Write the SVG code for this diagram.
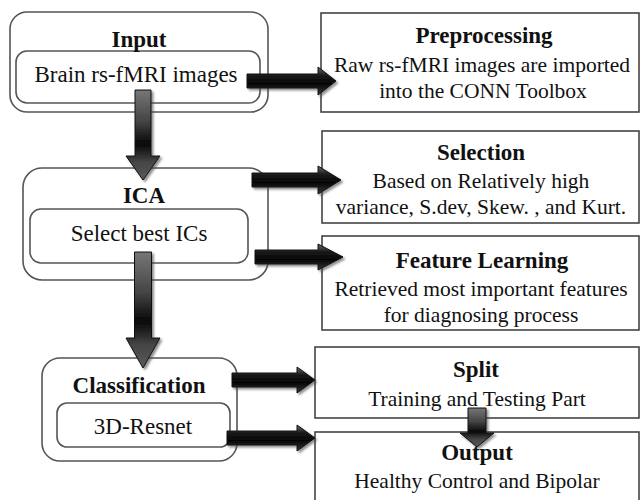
<svg xmlns="http://www.w3.org/2000/svg" width="642" height="500" viewBox="0 0 642 500">
<defs>
<style>
.rbox{fill:#fff;stroke:#555;stroke-width:1.6}
.sbox{fill:#fff;stroke:#444;stroke-width:1.6}
.t{font-family:"Liberation Serif","Times New Roman",serif;font-weight:bold;font-size:23px;fill:#111;text-anchor:middle}
.b{font-family:"Liberation Serif","Times New Roman",serif;font-size:23px;fill:#111;text-anchor:middle}
.br{font-family:"Liberation Serif","Times New Roman",serif;font-size:21.5px;fill:#111;text-anchor:middle}
.ha{fill:url(#gh);stroke:#111;stroke-width:1;filter:url(#sh)}
.va{fill:url(#gv);stroke:#111;stroke-width:1;filter:url(#sh)}
</style>
<linearGradient id="gh" x1="0" y1="0" x2="0" y2="1">
<stop offset="0" stop-color="#6a6a6a"/>
<stop offset="0.3" stop-color="#1a1a1a"/>
<stop offset="0.6" stop-color="#050505"/>
<stop offset="1" stop-color="#3a3a3a"/>
</linearGradient>
<linearGradient id="gv" x1="0" y1="0" x2="0" y2="1">
<stop offset="0" stop-color="#777"/>
<stop offset="0.35" stop-color="#444"/>
<stop offset="0.6" stop-color="#080808"/>
<stop offset="0.8" stop-color="#454545"/>
<stop offset="1" stop-color="#5a5a5a"/>
</linearGradient>
<filter id="sh" x="-20%" y="-20%" width="140%" height="140%">
<feDropShadow dx="2" dy="2" stdDeviation="1.2" flood-color="#444" flood-opacity="0.6"/>
</filter>
</defs>

<g id="input">
<rect class="rbox" x="10" y="12" width="258" height="100" rx="17"/>
<rect class="rbox" x="16" y="51" width="244" height="52" rx="11"/>
<text class="t" x="139" y="47">Input</text>
<text class="b" x="136" y="82">Brain rs-fMRI images</text>
</g>

<g id="preprocessing">
<rect class="sbox" x="321" y="13" width="318" height="99"/>
<text class="t" x="484" y="43">Preprocessing</text>
<text class="br" x="482" y="72">Raw rs-fMRI images are imported</text>
<text class="br" x="483" y="98">into the CONN Toolbox</text>
</g>

<g id="ica">
<rect class="rbox" x="23" y="168" width="245" height="112" rx="19"/>
<rect class="rbox" x="30" y="209" width="218" height="54" rx="11"/>
<text class="t" x="144" y="203">ICA</text>
<text class="b" x="139" y="241">Select best ICs</text>
</g>

<g id="selection">
<rect class="sbox" x="322" y="131" width="317" height="92"/>
<text class="t" x="481" y="160">Selection</text>
<text class="br" x="481" y="188">Based on Relatively high</text>
<text class="br" x="481" y="214">variance, S.dev, Skew. , and Kurt.</text>
</g>

<g id="feature-learning">
<rect class="sbox" x="322" y="236" width="317" height="94"/>
<text class="t" x="482" y="268">Feature Learning</text>
<text class="br" x="481" y="296">Retrieved most important features</text>
<text class="br" x="481" y="322">for diagnosing process</text>
</g>

<g id="classification">
<rect class="rbox" x="42" y="358" width="195" height="103" rx="18"/>
<rect class="rbox" x="57" y="403" width="173" height="44" rx="10"/>
<text class="t" x="139" y="393">Classification</text>
<text class="b" x="143" y="434">3D-Resnet</text>
</g>

<g id="split">
<rect class="sbox" x="315" y="347" width="324" height="71"/>
<text class="t" x="476" y="377">Split</text>
<text class="br" x="477" y="406">Training and Testing Part</text>
</g>

<g id="output">
<rect class="sbox" x="315" y="432" width="324" height="75"/>
<text class="t" x="477" y="460">Output</text>
<text class="br" x="477" y="488">Healthy Control and Bipolar</text>
</g>

<g id="connectors">
<path class="ha" d="M247,74 H318 V67 L336,81 L318,95 V88 H247 Z"/>
<path class="ha" d="M252,173 H318 V166 L341,180 L318,194 V187 H252 Z"/>
<path class="ha" d="M255,250 H318 V244 L343,257 L318,270 V264 H255 Z"/>
<path class="ha" d="M232,373 H297 V367 L315,380 L297,393 V387 H232 Z"/>
<path class="ha" d="M227,431 H297 V425 L315,438 L297,451 V445 H227 Z"/>
<path class="va" d="M135,90 H151 V156 H160 L143,180 L126,156 H135 Z"/>
<path class="va" d="M134.5,252 H151.5 V338 H160 L143,368 L126,338 H134.5 Z"/>
<path class="va" d="M468,408 H486 V433 H494 L477,447 L460,433 H468 Z"/>
</g>
</svg>
